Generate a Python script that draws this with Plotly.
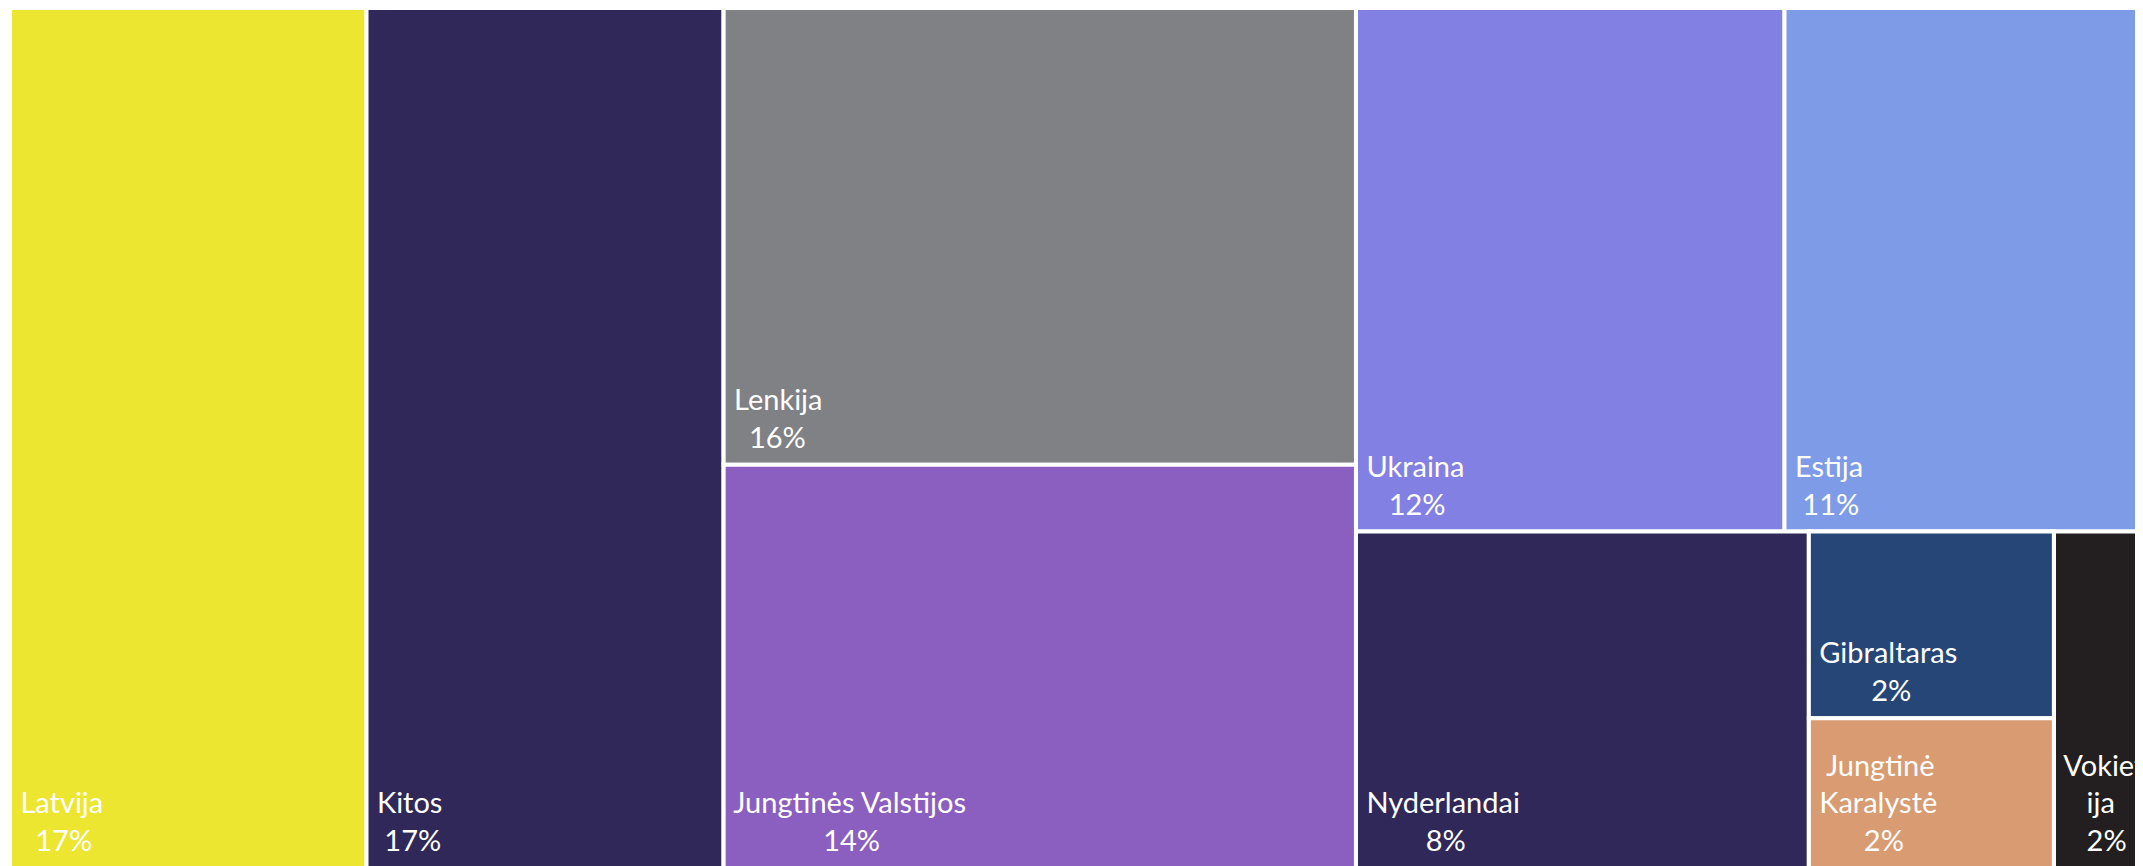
import plotly.graph_objects as go

countries = ["Latvija", "Kitos", "Lenkija", "Jungtinės Valstijos", "Ukraina", "Estija",
             "Nyderlandai", "Gibraltaras", "Jungtinė Karalystė", "Vokietija"]
shares = [16.70, 16.73, 15.73, 13.89, 12.22, 10.28, 8.30, 2.49, 2.00, 1.67]
pct_labels = ["17%", "17%", "16%", "14%", "12%", "11%", "8%", "2%", "2%", "2%"]
colors = ["#ECE631", "#2F2858", "#808185", "#8B5FBF", "#8380E4", "#7E9BE8",
          "#2F2858", "#264677", "#D89B72", "#231F20"]
# names as they wrap in the narrow tiles
shown_names = ["Latvija", "Kitos", "Lenkija", "Jungtinės Valstijos", "Ukraina", "Estija",
               "Nyderlandai", "Gibraltaras", "Jungtinė<br>Karalystė", "Vokiet<br>ija"]
# nbsp indents per line, so the lines sit centred under each other
indents = [[1, 3], [1, 2], [1, 3], [1, 13], [1, 4], [1, 2], [1, 9], [1, 8], [2, 1, 7], [1, 4, 4]]

# slice-dice grouping that gives the column/row layout
tree = [
    ("Latvija", "all"), ("Kitos", "all"),
    ("col3", "all"), ("Lenkija", "col3"), ("Jungtinės Valstijos", "col3"),
    ("col4", "all"), ("top", "col4"), ("Ukraina", "top"), ("Estija", "top"),
    ("bottom", "col4"), ("Nyderlandai", "bottom"), ("small", "bottom"),
    ("Gibraltaras", "small"), ("Jungtinė Karalystė", "small"), ("Vokietija", "bottom"),
]

NBSP = "\u00a0"
# a tall blank at the end of the label lifts the text off the tile's bottom edge
LIFT = '<span style="font-size:64px">' + NBSP + "</span>"


def tile_text(i):
    parts = shown_names[i].split("<br>") + [pct_labels[i]]
    return "<br>".join(NBSP * n + p for n, p in zip(indents[i], parts)) + LIFT


ids, parents, values, texts, node_colors = ["all"], [""], [0], [""], ["white"]
for node, parent in tree:
    ids.append(node)
    parents.append(parent)
    if node in countries:
        i = countries.index(node)
        values.append(shares[i])
        texts.append(tile_text(i))
        node_colors.append(colors[i])
    else:
        values.append(0)
        texts.append("")
        node_colors.append("white")

fig = go.Figure(go.Treemap(
    ids=ids, labels=ids, parents=parents, values=values,
    branchvalues="remainder", sort=False,
    text=texts, textinfo="text", textposition="bottom left",
    textfont={"family": "Lato, Open Sans, sans-serif", "size": 29, "color": "white"},
    marker={"colors": node_colors, "line": {"color": "white", "width": 4},
            "pad": {"t": 0, "l": 0, "r": 0, "b": 0}},
    tiling={"packing": "slice-dice", "pad": 0},
    pathbar={"visible": False},
    hoverinfo="skip",
))
fig.update_layout(
    width=2143, height=866,
    margin={"l": 2, "t": 0, "r": 6, "b": 6},
    paper_bgcolor="white",
    uniformtext={"minsize": 29, "mode": "show"},
)
fig.write_html("out.html")
